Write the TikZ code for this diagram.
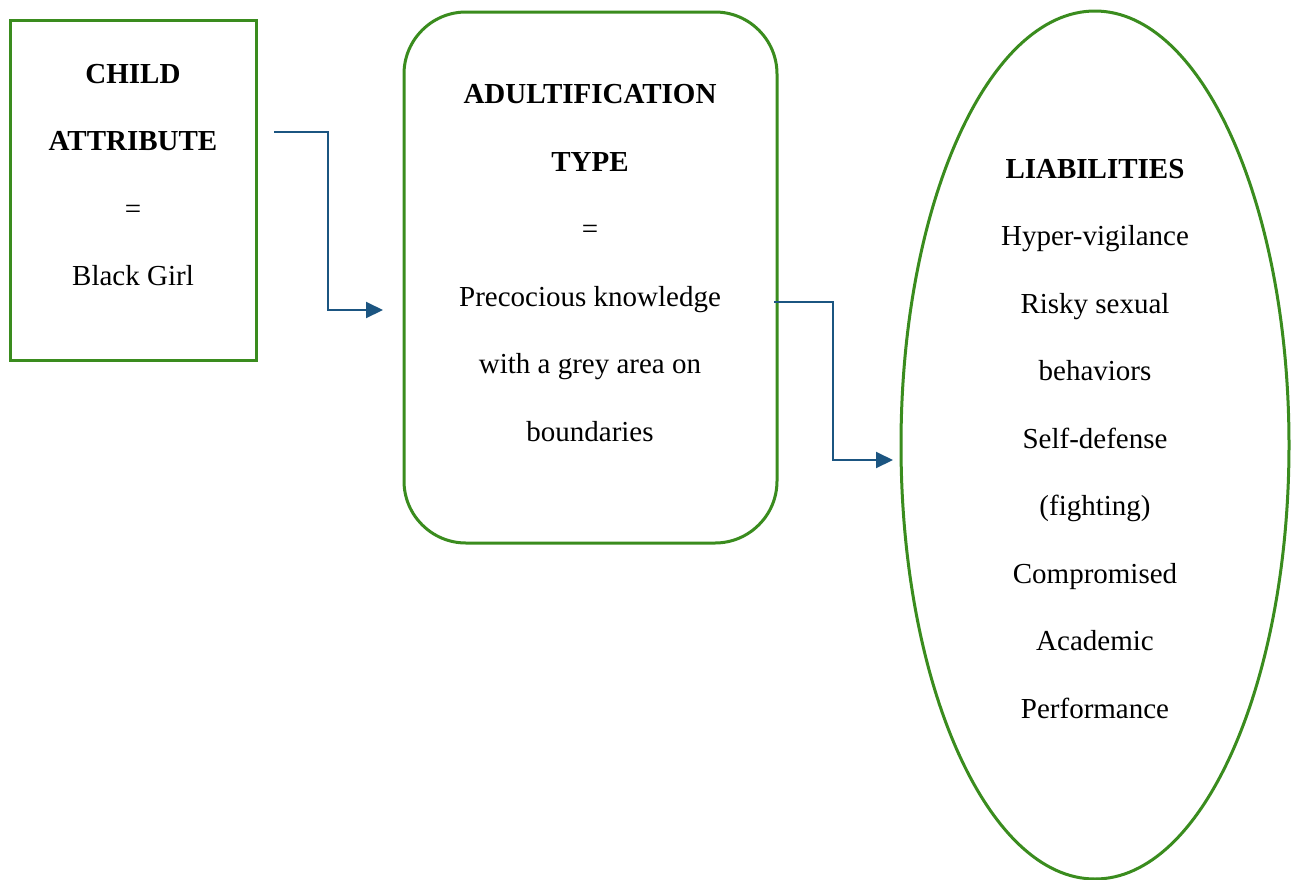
\documentclass[tikz,border=0pt]{standalone}
\usepackage{fontspec}
\setmainfont{Liberation Serif}
\usetikzlibrary{arrows.meta,shapes.geometric}
\definecolor{frame}{RGB}{58,140,30}
\definecolor{link}{RGB}{27,85,129}
\tikzset{
  outline/.style={draw=frame, line width=3pt, fill=none},
  label/.style={align=center, font=\fontsize{29}{67.5}\selectfont, inner sep=0pt},
  link/.style={draw=link, line width=2pt, -{Triangle[length=17pt,width=16pt]}},
}
\begin{document}
\begin{tikzpicture}[x=1pt,y=-1pt]
\useasboundingbox (0,0) rectangle (1296,879);
\fill[white] (0,0) rectangle (1296,879);

% shapes
\node[outline, rectangle, minimum width=246pt, minimum height=340pt] (attr) at (133,190) {};
\node[outline, rectangle, rounded corners=62pt, minimum width=373pt, minimum height=531pt] (type) at (590.5,277.5) {};
\node[outline, ellipse, inner sep=0pt, minimum width=388pt, minimum height=868pt] (liab) at (1095,445) {};

% texts
\node[label] (attrtext) at (133,175) {\textbf{CHILD}\\\textbf{ATTRIBUTE}\\=\\Black Girl};
\node[label] (typetext) at (590,263) {\textbf{ADULTIFICATION}\\\textbf{TYPE}\\=\\Precocious knowledge\\with a grey area on\\boundaries};
\node[label] (liabtext) at (1095,439) {\textbf{LIABILITIES}\\Hyper-vigilance\\Risky sexual\\behaviors\\Self-defense\\(fighting)\\Compromised\\Academic\\Performance};

% connector ends
\coordinate (s1) at (274,132);
\coordinate (e1) at (383,310);
\coordinate (s2) at (774,302);
\coordinate (e2) at (893,460);

\draw[link] (s1) -- (328,132) -- (328,310) -- (e1);
\draw[link] (s2) -- (833,302) -- (833,460) -- (e2);
\end{tikzpicture}
\end{document}
